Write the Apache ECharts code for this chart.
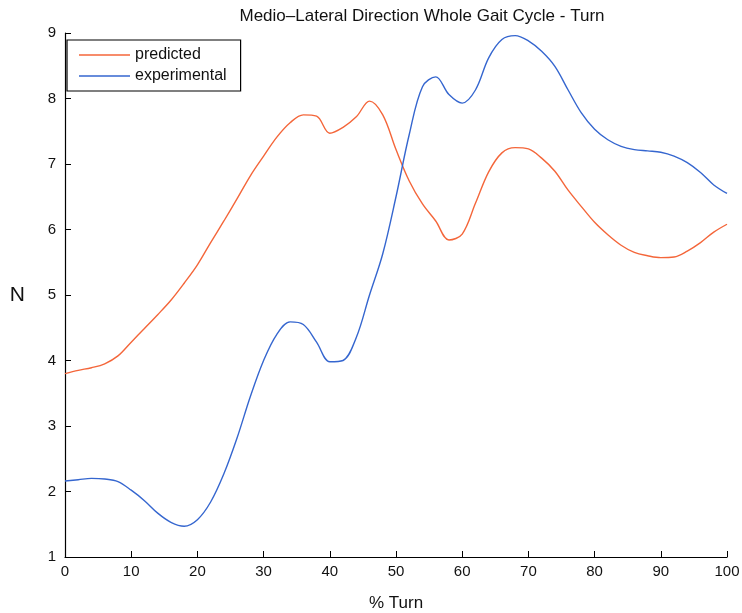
<!DOCTYPE html>
<html>
<head>
<meta charset="utf-8">
<script src="https://cdn.jsdelivr.net/npm/echarts@6/dist/echarts.min.js"></script>
<style>
  html, body { margin: 0; padding: 0; background: #fff; }
  #chart { width: 742px; height: 613px; }
</style>
</head>
<body>
<div id="chart"></div>
<script>
// % of turn (x positions shared by both curves)
const pctTurn = [0, 2, 4, 6, 8, 10, 12, 14, 16, 18, 20, 22, 24, 26, 28, 30, 32, 34, 36, 38,
  40, 42, 44, 46, 48, 50, 52, 54, 56, 58, 60, 62, 64, 66, 68, 70, 72, 74, 76, 78,
  80, 82, 84, 86, 88, 90, 92, 94, 96, 98, 100];

// Medio-lateral force, model prediction (N)
const predicted = [3.80, 3.85, 3.89, 3.95, 4.07, 4.28, 4.49, 4.70, 4.92, 5.18,
  5.46, 5.80, 6.13, 6.47, 6.82, 7.12, 7.41, 7.63, 7.75, 7.73,
  7.47, 7.56, 7.72, 7.96, 7.75, 7.22, 6.74, 6.39, 6.13, 5.84,
  5.93, 6.40, 6.88, 7.17, 7.25, 7.23, 7.09, 6.89, 6.60, 6.35,
  6.11, 5.92, 5.76, 5.65, 5.60, 5.57, 5.58, 5.67, 5.80, 5.96, 6.08];

// Medio-lateral force, measured (N)
const experimental = [2.16, 2.18, 2.20, 2.19, 2.15, 2.02, 1.86, 1.67, 1.53, 1.47,
  1.57, 1.84, 2.27, 2.82, 3.45, 4.00, 4.40, 4.59, 4.55, 4.28,
  3.98, 4.00, 4.35, 5.00, 5.63, 6.50, 7.45, 8.18, 8.33, 8.06,
  7.93, 8.13, 8.62, 8.90, 8.96, 8.88, 8.72, 8.49, 8.13, 7.78,
  7.53, 7.37, 7.27, 7.22, 7.20, 7.18, 7.12, 7.02, 6.87, 6.68, 6.55];

const font = 'Liberation Sans, Arial, Helvetica, sans-serif';
const pairs = (ys) => pctTurn.map((x, i) => [x, ys[i]]);

const chart = echarts.init(document.getElementById('chart'), null, { renderer: 'canvas' });
chart.setOption({
  animation: false,
  backgroundColor: '#ffffff',
  title: {
    text: 'Medio\u2013Lateral Direction Whole Gait Cycle - Turn',
    left: 417,
    top: 3,
    textAlign: 'center',
    textStyle: { fontFamily: font, fontSize: 17, fontWeight: 'normal', color: '#111' }
  },
  legend: {
    orient: 'vertical',
    left: 67,
    top: 40,
    padding: [7, 14, 7, 12],
    itemGap: 5,
    itemWidth: 51,
    itemHeight: 1.5,
    icon: 'rect',
    borderColor: '#000',
    borderWidth: 1.2,
    textStyle: { fontFamily: font, fontSize: 16, color: '#111', lineHeight: 16 },
    data: ['predicted', 'experimental']
  },
  grid: { left: 65, right: 15, top: 33, bottom: 56, containLabel: false, outerBoundsMode: 'none' },
  xAxis: {
    type: 'value',
    min: 0, max: 100, interval: 10,
    name: '% Turn',
    nameLocation: 'middle',
    nameGap: 38,
    nameTextStyle: { fontFamily: font, fontSize: 17, color: '#111' },
    axisLine: { lineStyle: { color: '#000', width: 1.2 } },
    axisTick: { inside: true, length: 6, lineStyle: { color: '#000' } },
    axisLabel: { fontFamily: font, fontSize: 15, color: '#111', margin: 7 },
    splitLine: { show: false }
  },
  yAxis: {
    type: 'value',
    min: 1, max: 9, interval: 1,
    name: 'N',
    nameLocation: 'middle',
    nameRotate: 0,
    nameGap: 40,
    nameTextStyle: { fontFamily: font, fontSize: 21, color: '#111' },
    axisLine: { show: true, lineStyle: { color: '#000', width: 1.2 } },
    axisTick: { show: true, inside: true, length: 6, lineStyle: { color: '#000' } },
    axisLabel: { fontFamily: font, fontSize: 15, color: '#111', margin: 9 },
    splitLine: { show: false }
  },
  series: [
    {
      name: 'predicted',
      type: 'line',
      smooth: 0.35,
      symbol: 'none',
      data: pairs(predicted),
      lineStyle: { color: '#f4663a', width: 1.4 },
      itemStyle: { color: '#f4663a' }
    },
    {
      name: 'experimental',
      type: 'line',
      smooth: 0.35,
      symbol: 'none',
      data: pairs(experimental),
      lineStyle: { color: '#3566cf', width: 1.4 },
      itemStyle: { color: '#3566cf' }
    }
  ]
});
</script>
</body>
</html>
